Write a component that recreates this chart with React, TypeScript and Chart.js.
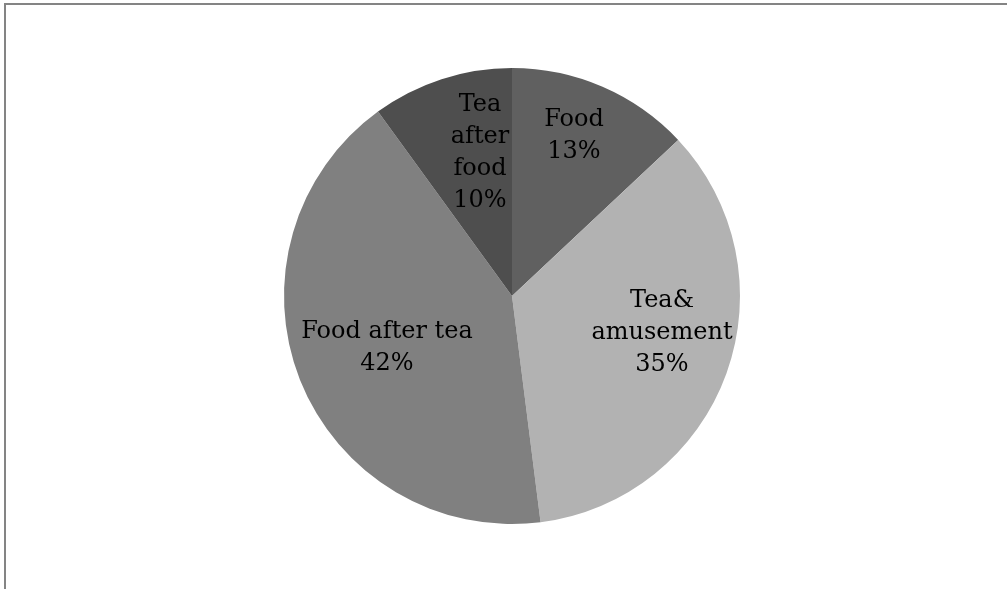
import React, { useEffect, useRef } from "react";
import { Chart, registerables } from "chart.js";

Chart.register(...registerables);

const categories: string[][] = [["Food"], ["Tea&", "amusement"], ["Food after tea"], ["Tea", "after", "food"]];
const values: number[] = [13, 35, 42, 10];
const percentLabels: string[] = ["13%", "35%", "42%", "10%"];
const colors: string[] = ["#606060", "#b2b2b2", "#808080", "#4e4e4e"];

// label placement: offset from pie center, in units of the outer radius
const labelOffsets: [number, number][] = [
  [62 / 228, -160 / 228],
  [150 / 228, 37 / 228],
  [-125 / 228, 52 / 228],
  [-32 / 228, -143 / 228],
];

const labelPlugin = {
  id: "sliceLabels",
  afterDatasetsDraw(chart: any) {
    const ctx = chart.ctx;
    const meta = chart.getDatasetMeta(0);
    ctx.save();
    ctx.font = "24px 'DejaVu Serif', serif";
    ctx.fillStyle = "#000";
    ctx.textAlign = "center";
    ctx.textBaseline = "middle";
    const lh = 32;
    meta.data.forEach((arc: any, i: number) => {
      const lines = [...categories[i], percentLabels[i]];
      const r = arc.outerRadius;
      const cx = arc.x + labelOffsets[i][0] * r;
      const cy = arc.y + labelOffsets[i][1] * r;
      const top = cy - ((lines.length - 1) * lh) / 2;
      lines.forEach((t, j) => ctx.fillText(t, cx, top + j * lh));
    });
    ctx.restore();
  },
};

export default function App() {
  const ref = useRef<HTMLCanvasElement | null>(null);
  useEffect(() => {
    document.body.style.margin = "0";
    const chart = new Chart(ref.current!, {
      type: "pie",
      data: {
        labels: categories.map((c) => c.join(" ")),
        datasets: [
          {
            data: values,
            backgroundColor: colors,
            borderWidth: 0,
          },
        ],
      },
      options: {
        responsive: false,
        animation: false,
        rotation: 0,
        layout: { padding: { top: 68, bottom: 65, left: 17, right: 0 } },
        plugins: { legend: { display: false }, tooltip: { enabled: false } },
      },
      plugins: [labelPlugin],
    });
    return () => chart.destroy();
  }, []);
  return (
    <div style={{ position: "relative", width: 1007, height: 589, overflow: "hidden", background: "#fff" }}>
      <canvas ref={ref} width={1007} height={589} style={{ position: "absolute", left: 0, top: 0 }} />
      <div
        style={{
          position: "absolute",
          left: 4,
          top: 3,
          width: 1020,
          height: 600,
          borderTop: "2px solid #848484",
          borderLeft: "2px solid #848484",
          boxSizing: "border-box",
        }}
      />
    </div>
  );
}
